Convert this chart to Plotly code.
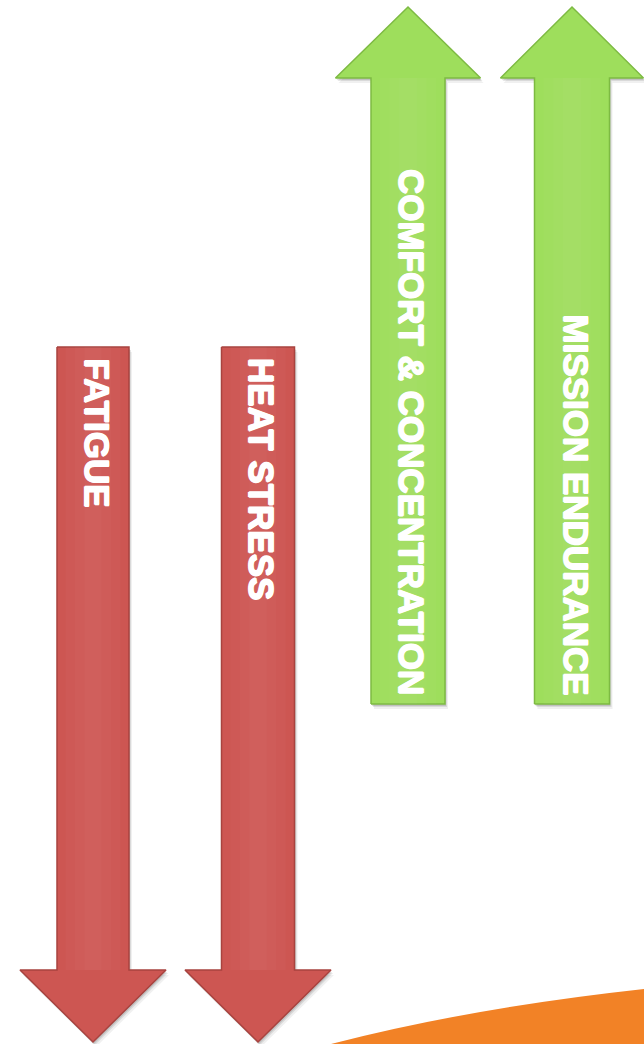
import plotly.graph_objects as go

# ---- data ----
labels = ["FATIGUE", "HEAT STRESS", "COMFORT &amp; CONCENTRATION", "MISSION ENDURANCE"]
directions = ["down", "down", "up", "up"]
centers = [93, 258, 408, 572]
tail_y = [347, 347, 704, 704]
head_base_y = [970, 970, 78, 78]
tip_y = [1042, 1042, 7, 7]
shaft_w = [72, 73, 74, 75]
head_w = [146, 146, 145, 143]
text_y = [356, 356, 697, 697]

fills = {"down": "#CD5652", "up": "#9EDE5C"}
edges = {"down": "#A8433F", "up": "#7DBA42"}

W, H = 644, 1044

fig = go.Figure()


def arrow_poly(cx, ty, hb, tp, sw, hw):
    xs = [cx - sw / 2, cx + sw / 2, cx + sw / 2, cx + hw / 2, cx, cx - hw / 2, cx - sw / 2, cx - sw / 2]
    ys = [ty, ty, hb, hb, tp, hb, hb, ty]
    return xs, ys


for i in range(len(labels)):
    xs, ys = arrow_poly(centers[i], tail_y[i], head_base_y[i], tip_y[i], shaft_w[i], head_w[i])
    # soft shadow layers
    for dx, dy, a in [(3, 5, 0.08), (2, 3, 0.13), (1, 2, 0.16)]:
        fig.add_trace(go.Scatter(
            x=[x + dx for x in xs], y=[y + dy for y in ys], mode="lines", fill="toself",
            fillcolor=f"rgba(60,60,60,{a})", line=dict(width=0), hoverinfo="skip", showlegend=False))
    fig.add_trace(go.Scatter(
        x=xs, y=ys, mode="lines", fill="toself", fillcolor=fills[directions[i]],
        line=dict(color=edges[directions[i]], width=1.5), hoverinfo="skip", showlegend=False))
    # subtle inner highlight along the shaft (soft gradient)
    for frac in (0.38, 0.25, 0.12):
        hx = [centers[i] - shaft_w[i] * frac, centers[i] + shaft_w[i] * frac,
              centers[i] + shaft_w[i] * frac, centers[i] - shaft_w[i] * frac, centers[i] - shaft_w[i] * frac]
        hy = [tail_y[i], tail_y[i], head_base_y[i], head_base_y[i], tail_y[i]]
        fig.add_trace(go.Scatter(
            x=hx, y=hy, mode="lines", fill="toself", fillcolor="rgba(255,255,255,0.025)",
            line=dict(width=0), hoverinfo="skip", showlegend=False))
    fig.add_annotation(
        x=centers[i], y=text_y[i], xref="x", yref="y", text=labels[i], showarrow=False,
        textangle=90, xanchor="center", yanchor="top" if directions[i] == "down" else "bottom",
        xshift=4,
        font=dict(family="Liberation Sans, Arial, sans-serif", size=35, color="white", weight=700,
                  shadow="0.8px 0px 0px white, -0.8px 0px 0px white, 0px 0.8px 0px white, 0px -0.8px 0px white"))

# decorative orange swoosh at the bottom right
fig.add_shape(type="path", xref="x", yref="y",
              path="M 331 1044 Q 470 1008 644 989 L 644 1044 Z",
              fillcolor="#F28226", line=dict(width=0), layer="below")

fig.update_xaxes(range=[0, W], visible=False, fixedrange=True)
fig.update_yaxes(range=[H, 0], visible=False, fixedrange=True)
fig.update_layout(width=W, height=H, margin=dict(l=0, r=0, t=0, b=0),
                  plot_bgcolor="white", paper_bgcolor="white", showlegend=False)

fig.write_html(
    "out.html",
    config={"displayModeBar": False},
    post_script="document.body.style.margin='0';document.documentElement.style.overflow='hidden';document.body.style.overflow='hidden';",
)
